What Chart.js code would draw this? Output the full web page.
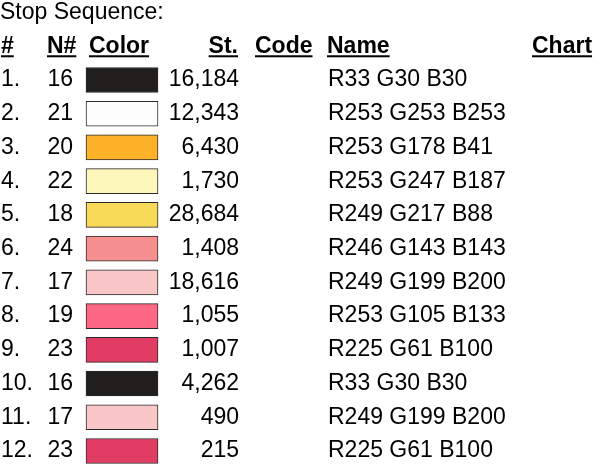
<!DOCTYPE html>
<html>
<head>
<meta charset="utf-8">
<script src="https://cdn.jsdelivr.net/npm/chart.js@4/dist/chart.umd.min.js"></script>
<style>
  html, body { margin: 0; padding: 0; background: #fff; }
  #wrap { width: 597px; height: 466px; }
</style>
</head>
<body>
<div id="wrap"><canvas id="chart" width="597" height="466"></canvas></div>
<script>
// Stop sequence data
const stopNumbers = ['1.', '2.', '3.', '4.', '5.', '6.', '7.', '8.', '9.', '10.', '11.', '12.'];
const colorNumbers = [16, 21, 20, 22, 18, 24, 17, 19, 23, 16, 17, 23];
const stitchCounts = [16184, 12343, 6430, 1730, 28684, 1408, 18616, 1055, 1007, 4262, 490, 215];
const colorCodes = ['', '', '', '', '', '', '', '', '', '', '', ''];
const colorNames = [
  'R33 G30 B30', 'R253 G253 B253', 'R253 G178 B41', 'R253 G247 B187',
  'R249 G217 B88', 'R246 G143 B143', 'R249 G199 B200', 'R253 G105 B133',
  'R225 G61 B100', 'R33 G30 B30', 'R249 G199 B200', 'R225 G61 B100'
];
const headers = ['#', 'N#', 'Color', 'St.', 'Code', 'Name', 'Chart'];
const title = 'Stop Sequence:';

// layout (pixels across the x scale)
const swatchLeft = 86, swatchRight = 158;
const FONT = '"Liberation Sans", Arial, sans-serif';
const FONT_SIZE = 23;

const toRgb = name => {
  const m = name.match(/R(\d+) G(\d+) B(\d+)/);
  return `rgb(${m[1]}, ${m[2]}, ${m[3]})`;
};

const rows = stopNumbers.map((_, i) => i + 1);

const tablePlugin = {
  id: 'tableText',
  afterDatasetsDraw(chart) {
    const ctx = chart.ctx;
    const y = chart.scales.y;
    ctx.save();
    ctx.fillStyle = '#000';
    ctx.textBaseline = 'middle';

    // title
    ctx.font = `${FONT_SIZE}px ${FONT}`;
    ctx.textAlign = 'left';
    ctx.fillText(title, 0, y.getPixelForValue(-1));

    // headers, bold + underlined
    const hy = y.getPixelForValue(0);
    const headerPos = [
      [1, 'left'], [47, 'left'], [89, 'left'], [238, 'right'],
      [255, 'left'], [327, 'left'], [532, 'left']
    ];
    ctx.font = `bold ${FONT_SIZE}px ${FONT}`;
    headers.forEach((h, i) => {
      const [x, align] = headerPos[i];
      ctx.textAlign = align;
      ctx.fillText(h, x, hy);
      const w = ctx.measureText(h).width;
      const x0 = align === 'right' ? x - w : x;
      ctx.fillRect(x0, hy + 9, w, 2);
    });

    // body rows
    ctx.font = `${FONT_SIZE}px ${FONT}`;
    rows.forEach((r, i) => {
      const py = y.getPixelForValue(r);
      ctx.textAlign = 'left';
      ctx.fillText(stopNumbers[i], 1, py);
      ctx.textAlign = 'right';
      ctx.fillText(String(colorNumbers[i]), 73, py);
      ctx.fillText(stitchCounts[i].toLocaleString('en-US'), 239, py);
      ctx.textAlign = 'left';
      ctx.fillText(colorCodes[i], 255, py);
      ctx.fillText(colorNames[i], 328, py);
    });
    ctx.restore();
  }
};

new Chart(document.getElementById('chart'), {
  type: 'bar',
  data: {
    datasets: [{
      label: 'Color',
      data: rows.map(r => ({ y: r, x: [swatchLeft, swatchRight] })),
      backgroundColor: colorNames.map(toRgb),
      borderColor: '#2a2a2a',
      borderWidth: 1,
      borderSkipped: false,
      barThickness: 25
    }]
  },
  options: {
    indexAxis: 'y',
    responsive: false,
    animation: false,
    layout: { padding: 0 },
    plugins: { legend: { display: false }, tooltip: { enabled: false } },
    scales: {
      x: { type: 'linear', min: 0, max: 597, display: false, offset: false },
      y: { type: 'linear', min: -1.372, max: 12.445, reverse: true, offset: false, display: false }
    }
  },
  plugins: [tablePlugin]
});
</script>
</body>
</html>
